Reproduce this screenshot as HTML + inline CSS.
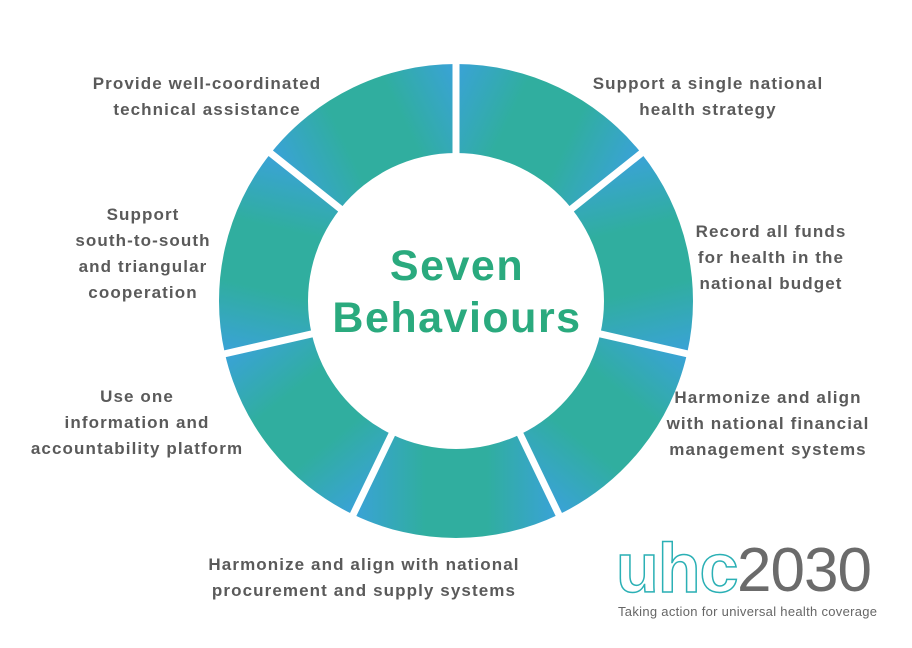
<!DOCTYPE html>
<html><head><meta charset="utf-8"><style>
body{margin:0;width:912px;height:648px;background:#fff;position:relative;overflow:hidden;font-family:"Liberation Sans",sans-serif}
.l{position:absolute;color:#5a5a5a;font-size:17px;font-weight:bold;line-height:26px;text-align:center;white-space:nowrap;transform:translateX(-50%);letter-spacing:1.1px}
</style></head><body>
<svg id="s" width="912" height="648" style="position:absolute;left:0;top:0"></svg>
<div class="l" style="left:207px;top:71px">Provide well-coordinated<br>technical assistance</div>
<div class="l" style="left:708px;top:71px">Support a single national<br>health strategy</div>
<div class="l" style="left:771px;top:219px">Record all funds<br>for health in the<br>national budget</div>
<div class="l" style="left:768px;top:385px">Harmonize and align<br>with national financial<br>management systems</div>
<div class="l" style="left:364px;top:552px">Harmonize and align with national<br>procurement and supply systems</div>
<div class="l" style="left:137px;top:384px">Use one<br>information and<br>accountability platform</div>
<div class="l" style="left:143px;top:202px">Support<br>south-to-south<br>and triangular<br>cooperation</div>
<div style="position:absolute;left:457px;top:240px;transform:translateX(-50%);text-align:center;color:#2aaa7e;font-weight:bold;font-size:43px;line-height:52px;white-space:nowrap;letter-spacing:1.5px">Seven<br>Behaviours</div>
<div style="position:absolute;left:616px;top:528px;font-size:70px;line-height:80px;color:transparent;-webkit-text-stroke:1.5px #2bb0b5;font-weight:bold;letter-spacing:-1px">uhc</div>
<div style="position:absolute;left:737px;top:536px;font-size:62px;line-height:70px;color:#6b6b6b;font-weight:normal;letter-spacing:-1px">2030</div>
<div style="position:absolute;left:618px;top:604px;font-size:13px;color:#666;white-space:nowrap;letter-spacing:0.3px">Taking action for universal health coverage</div>
<script>
var s=document.getElementById('s'),cx=456,cy=301,R=237,r=148,n=7,h='';
function p(a,rad){return [cx+rad*Math.sin(a),cy-rad*Math.cos(a)];}
for(var k=0;k<n;k++){
 var a0=k*2*Math.PI/n,a1=(k+1)*2*Math.PI/n,am=(a0+a1)/2;
 var A=p(a0,R),B=p(a1,R),C=p(a1,r),D=p(a0,r);
 h+='<linearGradient id="g'+k+'" gradientUnits="userSpaceOnUse" x1="'+A[0]+'" y1="'+A[1]+'" x2="'+B[0]+'" y2="'+B[1]+'"><stop offset="0" stop-color="#3aa2d8"/><stop offset="0.35" stop-color="#30ae9f"/><stop offset="0.65" stop-color="#30ae9f"/><stop offset="1" stop-color="#3aa2d8"/></linearGradient>';
 h+='<path fill="url(#g'+k+')" d="M'+A+' A'+R+' '+R+' 0 0 1 '+B+' L'+C+' A'+r+' '+r+' 0 0 0 '+D+'Z"/>';
}
for(var k=0;k<n;k++){var a=k*2*Math.PI/n,P=p(a,r-5),Q=p(a,R+5);h+='<line x1="'+P[0]+'" y1="'+P[1]+'" x2="'+Q[0]+'" y2="'+Q[1]+'" stroke="#fff" stroke-width="7"/>';}
s.innerHTML=h;
</script>
</body></html>
